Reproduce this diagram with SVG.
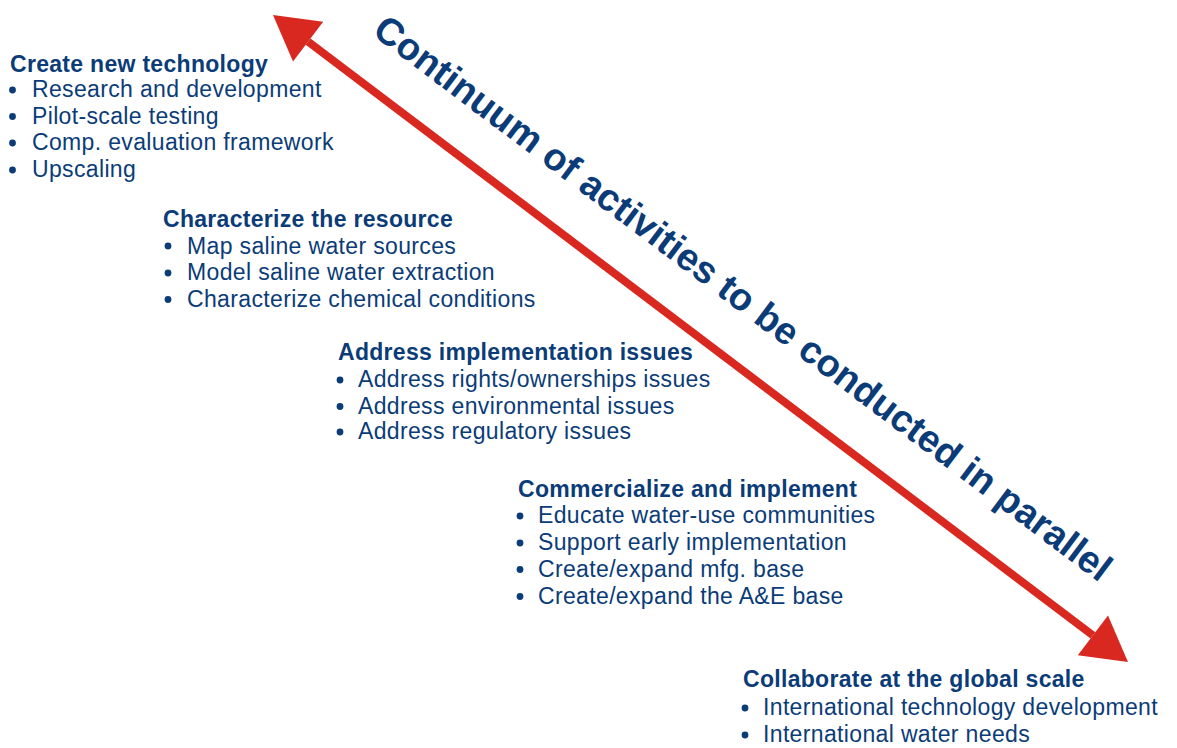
<svg xmlns="http://www.w3.org/2000/svg" width="1177" height="748" viewBox="0 0 1177 748">
<style>
  .t { font-family: "Liberation Sans", Arial, sans-serif; font-size: 23px; font-weight: bold; fill: #0b3c78; letter-spacing: 0.3px; }
  .i { font-family: "Liberation Sans", Arial, sans-serif; font-size: 23px; fill: #0b3c78; letter-spacing: 0.35px; }
  .b { fill: #0b3c78; }
  .big { font-family: "Liberation Sans", Arial, sans-serif; font-size: 38px; font-weight: bold; fill: #0b3c78; }
  .shaft { stroke: #d8281f; stroke-width: 8; fill: none; }
</style>
<defs>
  <marker id="head" markerUnits="userSpaceOnUse" viewBox="0 -25 44 50" markerWidth="44" markerHeight="50" refX="0" refY="0" orient="auto-start-reverse" overflow="visible">
    <path d="M0,-25 L44,0 L0,25 Z" fill="#d8281f"/>
  </marker>
</defs>
<rect width="1177" height="748" fill="#ffffff"/>
<g id="connectors">
  <line class="shaft" x1="308.1" y1="41.6" x2="1092.9" y2="635.4" marker-start="url(#head)" marker-end="url(#head)"/>
</g>
<g id="label-continuum">
  <text class="big" transform="translate(371,34) rotate(37)">Continuum of activities to be conducted in parallel</text>
</g>
<g id="node-create">
  <text class="t" x="10" y="72">Create new technology</text>
  <circle class="b" cx="12.5" cy="90" r="3.4"/>
  <circle class="b" cx="12.5" cy="116.5" r="3.4"/>
  <circle class="b" cx="12.5" cy="143" r="3.4"/>
  <circle class="b" cx="12.5" cy="170" r="3.4"/>
  <text class="i" x="32" y="97">Research and development</text>
  <text class="i" x="32" y="123.5">Pilot-scale testing</text>
  <text class="i" x="32" y="150">Comp. evaluation framework</text>
  <text class="i" x="32" y="177">Upscaling</text>
</g>
<g id="node-characterize">
  <text class="t" x="163" y="227">Characterize the resource</text>
  <circle class="b" cx="168" cy="246" r="3.4"/>
  <circle class="b" cx="168" cy="273" r="3.4"/>
  <circle class="b" cx="168" cy="299.5" r="3.4"/>
  <text class="i" x="187" y="253.5">Map saline water sources</text>
  <text class="i" x="187" y="280">Model saline water extraction</text>
  <text class="i" x="187" y="306.5">Characterize chemical conditions</text>
</g>
<g id="node-address">
  <text class="t" x="338" y="360">Address implementation issues</text>
  <circle class="b" cx="340" cy="380" r="3.4"/>
  <circle class="b" cx="340" cy="406.5" r="3.4"/>
  <circle class="b" cx="340" cy="432" r="3.4"/>
  <text class="i" x="358" y="387">Address rights/ownerships issues</text>
  <text class="i" x="358" y="413.5">Address environmental issues</text>
  <text class="i" x="358" y="439">Address regulatory issues</text>
</g>
<g id="node-commercialize">
  <text class="t" x="518" y="497">Commercialize and implement</text>
  <circle class="b" cx="520" cy="516" r="3.4"/>
  <circle class="b" cx="520" cy="543" r="3.4"/>
  <circle class="b" cx="520" cy="569.5" r="3.4"/>
  <circle class="b" cx="520" cy="596.5" r="3.4"/>
  <text class="i" x="538" y="523">Educate water-use communities</text>
  <text class="i" x="538" y="550">Support early implementation</text>
  <text class="i" x="538" y="576.5">Create/expand mfg. base</text>
  <text class="i" x="538" y="603.5">Create/expand the A&amp;E base</text>
</g>
<g id="node-collaborate">
  <text class="t" x="743" y="687">Collaborate at the global scale</text>
  <circle class="b" cx="745" cy="708" r="3.4"/>
  <circle class="b" cx="745" cy="735" r="3.4"/>
  <text class="i" x="763" y="715">International technology development</text>
  <text class="i" x="763" y="742">International water needs</text>
</g>
</svg>
